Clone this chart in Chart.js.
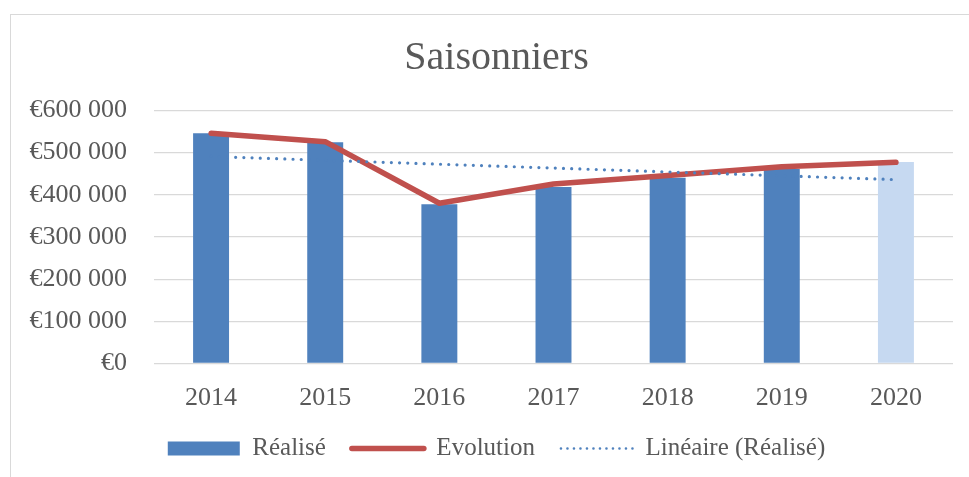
<!DOCTYPE html>
<html>
<head>
<meta charset="utf-8">
<script src="https://cdn.jsdelivr.net/npm/chart.js@4/dist/chart.umd.min.js"></script>
<style>
  body { margin: 0; background: #fff; overflow: hidden; }
  #cadre { position: absolute; left: 10px; top: 14px; width: 990px; height: 500px;
           border-left: 1.5px solid #d9d9d9; border-top: 1.5px solid #d9d9d9; }
  #graphique { position: absolute; left: 0; top: 0; }
</style>
</head>
<body>
<div id="cadre"></div>
<canvas id="graphique" width="969" height="477"></canvas>
<script>
// donnees
const annees = ['2014', '2015', '2016', '2017', '2018', '2019', '2020'];
const realise = [546000, 524500, 377500, 418500, 440600, 461000, 477800];
const evolution = [546000, 526000, 380000, 425600, 446000, 466700, 477000];
// tendance lineaire : seulement les deux bouts
const tendance = [491000, null, null, null, null, null, 436000];
const couleursBarres = ['#4F81BD', '#4F81BD', '#4F81BD', '#4F81BD', '#4F81BD', '#4F81BD', '#C6D9F1'];

const gris = '#595959';
const police = 'Liberation Serif';

function euros(v) {
  return '€' + String(v).replace(/\B(?=(\d{3})+(?!\d))/g, ' ');
}

const ctx = document.getElementById('graphique').getContext('2d');
new Chart(ctx, {
  data: {
    labels: annees,
    datasets: [
      {
        type: 'bar',
        label: 'Réalisé',
        data: realise,
        backgroundColor: couleursBarres,
        categoryPercentage: 1,
        barPercentage: 0.315,
        order: 2
      },
      {
        type: 'line',
        label: 'Evolution',
        data: evolution,
        borderColor: '#C0504D',
        borderWidth: 5.5,
        borderCapStyle: 'round',
        borderJoinStyle: 'round',
        pointRadius: 0,
        tension: 0,
        order: 1
      },
      {
        type: 'line',
        label: 'Linéaire (Réalisé)',
        data: tendance,
        spanGaps: true,
        borderColor: '#4F81BD',
        borderWidth: 3.2,
        borderDash: [0, 8.2],
        borderCapStyle: 'round',
        pointRadius: 0,
        order: 0
      }
    ]
  },
  options: {
    responsive: false,
    animation: false,
    layout: { padding: { left: 24, right: 0, top: 0, bottom: 6 } },
    plugins: {
      tooltip: { enabled: false },
      title: {
        display: true,
        text: 'Saisonniers',
        color: gris,
        font: { family: police, size: 40, weight: 'normal' },
        padding: { top: 34, bottom: 28.5 }
      },
      legend: {
        position: 'bottom',
        labels: {
          color: gris,
          font: { family: police, size: 25 },
          padding: 26,
          usePointStyle: true,
          pointStyleWidth: 72,
          boxHeight: 14,
          generateLabels: function (chart) {
            const ds = chart.data.datasets;
            return [
              { text: ds[0].label, datasetIndex: 0, pointStyle: 'rect', fillStyle: '#4F81BD', strokeStyle: '#4F81BD', lineWidth: 0, fontColor: gris },
              { text: ds[1].label, datasetIndex: 1, pointStyle: 'line', fillStyle: '#C0504D', strokeStyle: '#C0504D', lineWidth: 5.5, lineCap: 'round', fontColor: gris },
              { text: ds[2].label, datasetIndex: 2, pointStyle: 'line', fillStyle: '#4F81BD', strokeStyle: '#4F81BD', lineWidth: 2.6, lineCap: 'round', lineDash: [0, 6.5], fontColor: gris }
            ];
          }
        }
      }
    },
    scales: {
      x: {
        grid: { display: false },
        border: { display: false },
        ticks: { color: gris, font: { family: police, size: 26 }, padding: 11, maxRotation: 0 },
        afterFit: function (s) { s.height = 46.5; }
      },
      y: {
        min: 0,
        max: 600000,
        ticks: { stepSize: 100000, color: gris, font: { family: police, size: 26 }, padding: 27, callback: euros },
        grid: { color: '#d9d9d9', lineWidth: 1.3, drawTicks: false },
        border: { display: false },
        afterFit: function (s) { s.width = 130; }
      },
      yDroite: {
        position: 'right',
        display: true,
        grid: { display: false },
        border: { display: false },
        ticks: { display: false },
        afterFit: function (s) { s.width = 16; }
      }
    }
  }
});
</script>
</body>
</html>
